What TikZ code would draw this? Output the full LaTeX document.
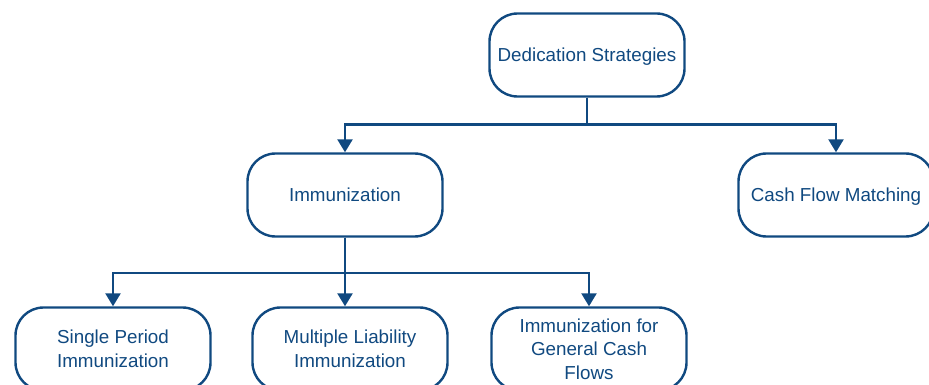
\documentclass[tikz,border=0pt]{standalone}
\usepackage{fontspec}
\setmainfont{Liberation Sans}
\usepackage{xcolor}
\usetikzlibrary{arrows.meta}
\definecolor{navy}{RGB}{16,73,128}
\tikzstyle{box}=[draw=navy,text=navy,line width=2.4pt,rounded corners=28pt,minimum width=195pt,minimum height=83pt,align=center,font=\fontsize{18.8}{23.5}\selectfont]
\tikzstyle{single}=[box,text depth=0pt]
\tikzstyle{link}=[draw=navy,line width=2.4pt,-{Triangle[width=15pt,length=13pt]}]

\begin{document}
\begin{tikzpicture}[x=1pt,y=-1pt]
        \useasboundingbox (0,0) rectangle (929,385);
        \node at (587, 55) [single] (ded) {Dedication Strategies};
        \node at (345,195) [single] (imm) {Immunization};
        \node at (836,195) [single] (cfm) {Cash Flow Matching};
        \node at (113,349) [box] (spi) {Single Period\\Immunization};
        \node at (350,349) [box] (mli) {Multiple Liability\\Immunization};
        \node at (589,349) [box] (igc) {Immunization for\\General Cash\\Flows};
        \draw [link] (ded.south) -- ++(0,27) -| (imm.north);
        \draw [link] (ded.south) -- ++(0,27) -| (cfm.north);
        \draw [link] (imm.south) -- ++(0,35) -| (spi.north);
        \draw [link] (imm.south) -- (imm.south |- mli.north);
        \draw [link] (imm.south) -- ++(0,35) -| (igc.north);
      \end{tikzpicture}
\end{document}
